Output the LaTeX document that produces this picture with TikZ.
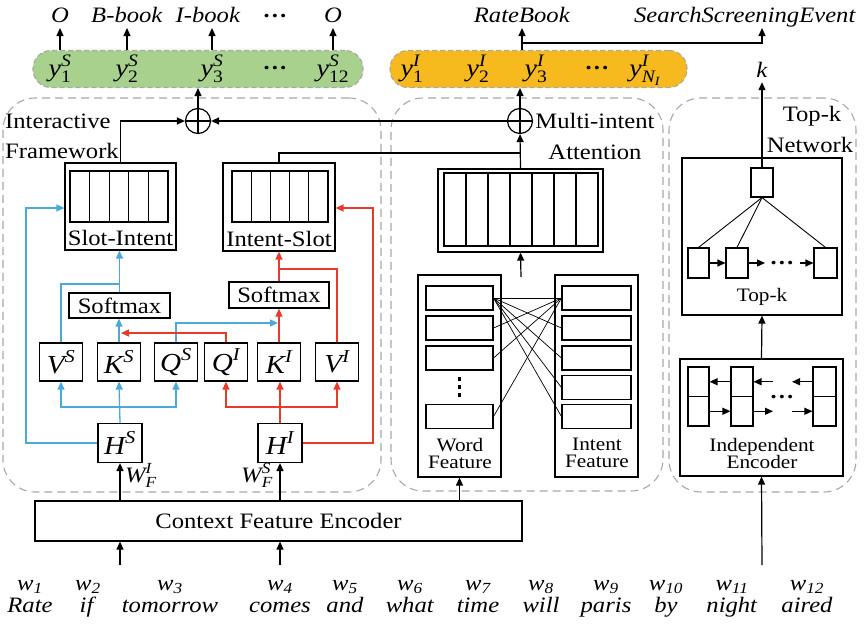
\documentclass[tikz,border=0pt]{standalone}
\usepackage{fontspec}
\usepackage{amsmath}
\setmainfont{Liberation Serif}[FakeStretch=1.12]
\usetikzlibrary{arrows.meta}
\definecolor{cgreen}{HTML}{A9D18E}
\definecolor{corange}{HTML}{F7BA1E}
\definecolor{cblue}{HTML}{4AA8DC}
\definecolor{cred}{HTML}{E8392B}
\definecolor{cdash}{HTML}{A8A8A8}
\newcommand{\bigtxt}{\fontsize{22}{24}\selectfont}
\newcommand{\midtxt}{\fontsize{19}{19}\selectfont}
\newcommand{\symtxt}{\fontsize{26}{28}\selectfont}
\newcommand{\ytxt}{\fontsize{25}{27}\selectfont}
\newcommand{\iv}[1]{\textit{#1}}
\newcommand{\hdotz}{\textbf{…}}
\tikzset{
  txt/.style={inner sep=0pt, font=\bigtxt},
  ytx/.style={inner sep=0pt, font=\ytxt},
  mtxt/.style={inner sep=0pt, font=\midtxt, align=center},
  blk/.style={draw, line width=1.2pt, inner sep=0pt, font=\bigtxt},
  symbox/.style={draw, line width=1.2pt, inner sep=0pt, font=\symtxt, minimum width=43pt, minimum height=38pt},
  sq/.style={draw, line width=1.1pt, inner sep=0pt},
  ln/.style={line width=1.2pt},
  arr/.style={line width=1.2pt, -{Triangle[length=8pt,width=7pt]}},
  bln/.style={color=cblue, line width=1.3pt},
  barr/.style={color=cblue, line width=1.3pt, -{Triangle[length=8pt,width=7pt]}},
  rln/.style={color=cred, line width=1.3pt},
  rarr/.style={color=cred, line width=1.3pt, -{Triangle[length=8pt,width=7pt]}},
  thinln/.style={line width=0.7pt},
  region/.style={draw=cdash, line width=1.1pt, dash pattern=on 8pt off 5pt, rounded corners=32pt, inner sep=0pt},
  capsule/.style={draw=cdash, line width=1.1pt, dash pattern=on 5pt off 3pt, rounded corners=18pt, inner sep=0pt, minimum height=37pt},
  oplus/.style={circle, draw, line width=1.2pt, minimum size=25pt, inner sep=0pt},
}
\begin{document}
\begin{tikzpicture}[x=1pt,y=-1pt]
\useasboundingbox (0,0) rectangle (867,624);
% ---------- regions
\node[region, minimum width=378pt, minimum height=394pt] (rg1) at (192,295) {};
\node[region, minimum width=272pt, minimum height=393pt] (rg2) at (527,294.5) {};
\node[region, minimum width=187pt, minimum height=394pt] (rg3) at (762.5,295) {};
\node[txt, anchor=west] (rg1a) at (5,121) {Interactive};
\node[txt, anchor=west] (rg1b) at (5,151) {Framework};
\node[txt] (rg2a) at (595,121) {Multi-intent};
\node[txt] (rg2b) at (595,152) {Attention};
\node[txt] (rg3a) at (812,116) {Top-k};
\node[txt] (rg3b) at (810,145) {Network};
% ---------- output bars
\node[capsule, fill=cgreen, minimum width=330pt] (gbar) at (198,69) {};
\node[capsule, fill=corange, minimum width=297pt] (obar) at (538.5,69) {};
\node[ytx, anchor=base] (ys1) at (60,76) {$\iv{y}^{\iv{S}}_{\text{1}}$};
\node[ytx, anchor=base] (ys2) at (127,76) {$\iv{y}^{\iv{S}}_{\text{2}}$};
\node[ytx, anchor=base] (ys3) at (212,76) {$\iv{y}^{\iv{S}}_{\text{3}}$};
\node[txt] (ysd) at (275,68) {\hdotz};
\node[ytx, anchor=base] (ys12) at (333,76) {$\iv{y}^{\iv{S}}_{\text{12}}$};
\node[ytx, anchor=base] (yi1) at (412,76) {$\iv{y}^{\iv{I}}_{\text{1}}$};
\node[ytx, anchor=base] (yi2) at (478,76) {$\iv{y}^{\iv{I}}_{\text{2}}$};
\node[ytx, anchor=base] (yi3) at (536,76) {$\iv{y}^{\iv{I}}_{\text{3}}$};
\node[txt] (yid) at (597,68) {\hdotz};
\node[ytx, anchor=base] (yin) at (645,76) {$\iv{y}^{\iv{I}}_{\iv{N}_{\iv{I}}}$};
% top labels
\node[txt, anchor=base] (l1) at (60,22) {\iv{O}};
\node[txt, anchor=base] (l2) at (127,22) {\iv{B-book}};
\node[txt, anchor=base] (l3) at (208,22) {\iv{I-book}};
\node[txt] (l4) at (275,16) {\hdotz};
\node[txt, anchor=base] (l5) at (333,22) {\iv{O}};
\node[txt, anchor=base] (rb) at (522,22) {\iv{RateBook}};
\node[txt, anchor=base] (sse) at (745,22) {\iv{SearchScreeningEvent}};
\node[txt, anchor=base] (kk) at (762,77) {\iv{k}};
\draw[arr] (ys1 |- gbar.north) -- (ys1 |- 0,28);
\draw[arr] (ys2 |- gbar.north) -- (ys2 |- 0,28);
\draw[arr] (ys3 |- gbar.north) -- (ys3 |- 0,28);
\draw[arr] (ys12 |- gbar.north) -- (ys12 |- 0,28);
\draw[arr] (rb |- obar.north) -- (rb |- 0,28);
\coordinate (rbj) at (522,43);
\coordinate (ssej) at (762,28);
\draw[arr] (rbj) -| (ssej);
% ---------- oplus
\node[oplus] (pl) at (198,121) {};
\draw[ln] (pl.north) -- (pl.south) (pl.west) -- (pl.east);
\node[oplus] (pr) at (520,121) {};
\draw[ln] (pr.north) -- (pr.south) (pr.west) -- (pr.east);
\draw[arr] (pl.north) -- (pl |- gbar.south);
\draw[arr] (pr.north) -- (pr |- obar.south);
\draw[arr] (pr.west) -- (pl.east);
% ---------- Interactive framework
\node[blk, minimum width=111pt, minimum height=87pt] (si) at (120.5,206.5) {};
\draw[ln] (70,171) rectangle (168,222);
\foreach \x in {89.6,109.2,128.8,148.4} \draw[ln] (\x,171) -- (\x,222);
\node[txt] (sil) at (120.5,238) {Slot-Intent};
\node[blk, minimum width=112pt, minimum height=88pt] (is) at (279,207) {};
\draw[ln] (232,171) rectangle (328,222);
\foreach \x in {251.2,270.4,289.6,308.8} \draw[ln] (\x,171) -- (\x,222);
\node[txt] (isl) at (279,239) {Intent-Slot};
\draw[arr] (si.north) |- (pl.west);
\coordinate (j1) at (520,153);
\draw[ln] (is.north) |- (j1);

\node[blk, minimum width=101pt, minimum height=25pt] (sm1) at (119.5,305.5) {Softmax};
\node[blk, minimum width=100pt, minimum height=26pt] (sm2) at (279,295) {Softmax};

\node[symbox] (vs) at (61,362) {$\iv{V}^{\iv{S}}$};
\node[symbox] (ks) at (119,362) {$\iv{K}^{\iv{S}}$};
\node[symbox] (qs) at (176,362) {$\iv{Q}^{\iv{S}}$};
\node[symbox] (qi) at (226,362) {$\iv{Q}^{\iv{I}}$};
\node[symbox] (ki) at (279,362) {$\iv{K}^{\iv{I}}$};
\node[symbox] (vi) at (337,362) {$\iv{V}^{\iv{I}}$};

\node[symbox, minimum width=44pt, minimum height=39pt] (hs) at (120,443) {$\iv{H}^{\iv{S}}$};
\node[symbox, minimum width=44pt, minimum height=39pt] (hi) at (280,443) {$\iv{H}^{\iv{I}}$};
\node[txt, anchor=base west] (wfi) at (125,482) {$\iv{W}^{\iv{I}}_{\iv{F}}$};
\node[txt, anchor=base east] (wfs) at (273,482) {$\iv{W}^{\iv{S}}_{\iv{F}}$};

% blue paths
\coordinate (bj) at (120,407);
\draw[barr] (hs.north) -- (ks.south);
\draw[barr] (bj) -| (vs.south);
\draw[barr] (bj) -| (qs.south);
\draw[barr] (ks.north) -- (ks |- sm1.south);
\draw[barr] (sm1.north) -- (sm1.north |- si.south);
\coordinate (bj2) at (119.5,284);
\draw[bln] (vs.north) |- (bj2);
\coordinate (blc) at (26,208);
\draw[barr] (hs.west) -| (blc) -- (blc -| si.west);
\coordinate (bq) at (278,323);
\draw[barr] (qs.north) |- (bq);
% red paths
\coordinate (rj) at (280,407);
\draw[rarr] (hi.north) -- (hi |- ki.south);
\draw[rarr] (rj) -| (qi.south);
\draw[rarr] (rj) -| (vi.south);
\draw[rarr] (ki.north) -- (ki |- sm2.south);
\draw[rarr] (sm2.north) -- (sm2.north |- is.south);
\coordinate (rj2) at (279,269);
\draw[rln] (vi.north) |- (rj2);
\coordinate (rrc) at (373,208);
\draw[rarr] (hi.east) -| (rrc) -- (rrc -| is.east);
\coordinate (rq) at (121,333);
\draw[rarr] (qi.north) |- (rq);

% ---------- Encoder
\node[blk, minimum width=487pt, minimum height=40pt] (enc) at (278.5,521) {Context Feature Encoder};
\draw[arr] (hs |- enc.north) -- (hs.south);
\draw[arr] (hi |- enc.north) -- (hi.south);
\coordinate (in1) at (120,565);
\coordinate (in2) at (280,565);
\draw[arr] (in1) -- (in1 |- enc.south);
\draw[arr] (in2) -- (in2 |- enc.south);

% ---------- Multi-intent attention
\node[blk, minimum width=165pt, minimum height=83pt] (att) at (520.5,210.5) {};
\draw[ln] (444,173) rectangle (598,246);
\foreach \x in {466,488,510,532,554,576} \draw[ln] (\x,173) -- (\x,246);
\draw[arr] (att.north) -- (pr.south);
\coordinate (attin) at (521,277);
\draw[arr] (attin) -- (att.south);

\node[blk, minimum width=83pt, minimum height=202pt] (wf) at (459.5,376) {};
\node[blk, minimum width=83pt, minimum height=202pt] (itf) at (596.5,376) {};
\node[mtxt] (wfl) at (460,453) {Word\\[-2pt]Feature};
\node[mtxt] (itfl) at (597,453) {Intent\\[-2pt]Feature};
\foreach \n/\y in {1/298,2/328,3/358,5/416.5}
  \node[sq, minimum width=67pt, minimum height=24pt] (w\n) at (459.5,\y) {};
\foreach \n/\y in {1/298,2/328,3/358,4/387.5,5/416.5}
  \node[sq, minimum width=69pt, minimum height=24pt] (i\n) at (596.5,\y) {};
\foreach \y in {379,387,395} \fill (457.7,\y-1.8) rectangle (461.3,\y+1.8);
\foreach \n in {1,2,3,4,5} \draw[thinln] (w1.east) -- (i\n.west);
\foreach \n in {2,3,5} \draw[thinln] (i1.west) -- (w\n.east);
\draw[arr] (wf |- enc.north) -- (wf.south);

% ---------- Top-k network
\node[blk, minimum width=160pt, minimum height=157pt] (tk) at (762,236.5) {};
\node[sq, minimum width=22pt, minimum height=29pt] (ts) at (762,182.5) {};
\node[sq, minimum width=21pt, minimum height=30pt] (b1) at (698.5,263) {};
\node[sq, minimum width=22pt, minimum height=30pt] (b2) at (737,263) {};
\node[sq, minimum width=23pt, minimum height=30pt] (b3) at (825.5,263) {};
\draw[thinln, line width=0.9pt] (ts.south) -- (b1.north);
\draw[thinln, line width=0.9pt] (ts.south) -- (b2.north);
\draw[thinln, line width=0.9pt] (ts.south) -- (b3.north);
\coordinate (bt1) at (765,263);
\coordinate (bt2) at (800,263);
\draw[arr] (b1.east) -- (b2.west);
\draw[arr] (b2.east) -- (bt1);
\draw[arr] (bt2) -- (b3.west);
\node[txt] (btd) at (782,263) {\hdotz};
\node[mtxt] (tkl) at (762,297) {Top-k};
\draw[arr, shorten >=5pt] (ts.north) -- (kk.south);

% ---------- Independent encoder
\node[blk, minimum width=163pt, minimum height=117pt] (ie) at (761.5,417.5) {};
\foreach \n/\x/\w in {1/698.5/21,2/742/22,3/824.5/23} {
  \node[sq, minimum width=\w pt, minimum height=29.5pt] (c\n t) at (\x,381.75) {};
  \node[sq, minimum width=\w pt, minimum height=29.5pt] (c\n b) at (\x,411.25) {};
}
\coordinate (ct1) at (773,381.75);
\coordinate (ct2) at (792,381.75);
\coordinate (cb1) at (773,411.25);
\coordinate (cb2) at (792,411.25);
\draw[arr] (c2t.west) -- (c1t.east);
\draw[arr] (ct1) -- (c2t.east);
\draw[arr] (c3t.west) -- (ct2);
\draw[arr] (c1b.east) -- (c2b.west);
\draw[arr] (c2b.east) -- (cb1);
\draw[arr] (cb2) -- (c3b.west);
\node[txt] (ced) at (782,397) {\hdotz};
\node[mtxt] (iel) at (762,453) {Independent\\[-2pt]Encoder};
\draw[arr] (ie.north) -- (tk.south);
\coordinate (in3) at (762,565);
\draw[arr] (in3) -- (ie.south);

% ---------- words
\foreach \n/\x/\w/\lab in {1/30/{1}/Rate,2/88/{2}/if,3/170/{3}/tomorrow,4/280/{4}/comes,5/345/{5}/and,6/410/{6}/what,7/478/{7}/time,8/541/{8}/will,9/606/{9}/paris,10/666/{10}/by,11/732/{11}/night,12/807/{12}/aired} {
  \node[txt, anchor=base] (wl\n) at (\x,590) {$\iv{w}_{\iv{\w}}$};
  \node[txt, anchor=base] (wd\n) at (\x,612) {\iv{\lab}};
}
\end{tikzpicture}
\end{document}
